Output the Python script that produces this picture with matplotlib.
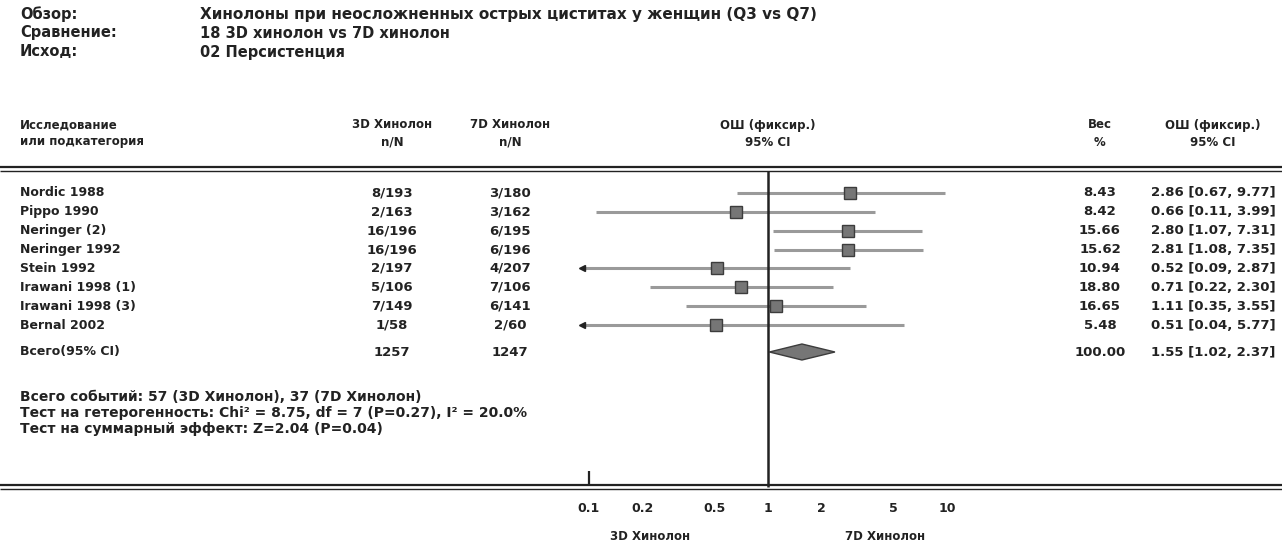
import numpy as np
import matplotlib
matplotlib.use('Agg')
import matplotlib.pyplot as plt
from matplotlib.patches import Polygon

plt.rcParams['font.family'] = ['DejaVu Sans']

# исследования и их данные
studies = ['Nordic 1988', 'Pippo 1990', 'Neringer (2)', 'Neringer 1992',
           'Stein 1992', 'Irawani 1998 (1)', 'Irawani 1998 (3)', 'Bernal 2002']
ev_3d = [8, 2, 16, 16, 2, 5, 7, 1]
n_3d = [193, 163, 196, 196, 197, 106, 149, 58]
ev_7d = [3, 3, 6, 6, 4, 7, 6, 2]
n_7d = [180, 162, 195, 196, 207, 106, 141, 60]
odds = [2.86, 0.66, 2.80, 2.81, 0.52, 0.71, 1.11, 0.51]
ci_lo = [0.67, 0.11, 1.07, 1.08, 0.09, 0.22, 0.35, 0.04]
ci_hi = [9.77, 3.99, 7.31, 7.35, 2.87, 2.30, 3.55, 5.77]
weights = [8.43, 8.42, 15.66, 15.62, 10.94, 18.80, 16.65, 5.48]

total_3d = 1257
total_7d = 1247
total_or = 1.55
total_lo = 1.02
total_hi = 2.37
total_w = 100.00

tick_vals = [0.1, 0.2, 0.5, 1, 2, 5, 10]
tick_labels = ['0.1', '0.2', '0.5', '1', '2', '5', '10']

W, H = 1282, 545
fig = plt.figure(figsize=(W / 100, H / 100), dpi=100)

# фоновая ось в пикселях для текста таблицы
ax = fig.add_axes([0, 0, 1, 1])
ax.set_xlim(0, W)
ax.set_ylim(H, 0)
ax.axis('off')

# ось для графика ОШ (логарифмическая шкала)
x0, x1 = 579, 961
fx = fig.add_axes([x0 / W, 0, (x1 - x0) / W, 1])
fx.set_xscale('log')
fx.set_xlim(0.088, 12)
fx.set_ylim(H, 0)
fx.axis('off')
fx.patch.set_alpha(0)

tc = '#222222'
fb = dict(color=tc, fontweight='bold', va='center')
hs = 10.5   # шапка
cs = 8.5    # заголовки колонок
ns = 9      # названия исследований
vs = 9.5    # числа
fs = 10     # примечания

# шапка
ax.text(20, 14, 'Обзор:', fontsize=hs, **fb)
ax.text(20, 33, 'Сравнение:', fontsize=hs, **fb)
ax.text(20, 52, 'Исход:', fontsize=hs, **fb)
ax.text(200, 14, 'Хинолоны при неосложненных острых циститах у женщин (Q3 vs Q7)',
        fontsize=11, **fb)
ax.text(200, 33, '18 3D хинолон vs 7D хинолон', fontsize=hs, **fb)
ax.text(200, 52, '02 Персистенция', fontsize=hs, **fb)

# заголовки колонок
col_3d, col_7d, col_or, col_w, col_ci = 392, 510, 768, 1100, 1213
ax.text(20, 125, 'Исследование', fontsize=cs, **fb)
ax.text(20, 142, 'или подкатегория', fontsize=cs, **fb)
for cx, top, bot in [(col_3d, '3D Хинолон', 'n/N'), (col_7d, '7D Хинолон', 'n/N'),
                     (col_or, 'ОШ (фиксир.)', '95% CI'), (col_w, 'Вес', '%'),
                     (col_ci, 'ОШ (фиксир.)', '95% CI')]:
    ax.text(cx, 125, top, fontsize=cs, ha='center', **fb)
    ax.text(cx, 142, bot, fontsize=cs, ha='center', **fb)

# двойные горизонтальные линии
ax.hlines([167, 170.5], 0, W, color='#222222', lw=[1.6, 1.0])
ax.hlines([485, 488.5], 0, W, color='#222222', lw=[1.6, 1.0])

# строки исследований
row_y = 193 + 18.86 * np.arange(len(studies))
xmin = fx.get_xlim()[0]
for i, y in enumerate(row_y):
    ax.text(20, y, studies[i], fontsize=ns, **fb)
    ax.text(col_3d, y, f'{ev_3d[i]}/{n_3d[i]}', fontsize=vs, ha='center', **fb)
    ax.text(col_7d, y, f'{ev_7d[i]}/{n_7d[i]}', fontsize=vs, ha='center', **fb)
    ax.text(col_w, y, f'{weights[i]:.2f}', fontsize=vs, ha='center', **fb)
    ax.text(col_ci, y, f'{odds[i]:.2f} [{ci_lo[i]:.2f}, {ci_hi[i]:.2f}]',
            fontsize=vs, ha='center', **fb)
    lo = max(ci_lo[i], xmin * 1.04)
    fx.plot([lo, ci_hi[i]], [y, y], color='#9a9a9a', lw=2.2, solid_capstyle='butt', zorder=2)
    if ci_lo[i] < xmin * 1.04:
        fx.plot(lo, y, marker='<', ms=4.5, color='#222222', zorder=3)
    fx.plot(odds[i], y, marker='s', ms=7.5 + 0.08 * weights[i], mfc='#767676',
            mec='#3c3c3c', mew=1.0, zorder=4)

# итоговая строка
ty = 352
ax.text(20, ty, 'Всего(95% CI)', fontsize=ns, **fb)
ax.text(col_3d, ty, str(total_3d), fontsize=vs, ha='center', **fb)
ax.text(col_7d, ty, str(total_7d), fontsize=vs, ha='center', **fb)
ax.text(col_w, ty, f'{total_w:.2f}', fontsize=vs, ha='center', **fb)
ax.text(col_ci, ty, f'{total_or:.2f} [{total_lo:.2f}, {total_hi:.2f}]',
        fontsize=vs, ha='center', **fb)
fx.add_patch(Polygon([(total_lo, ty), (total_or, ty - 8), (total_hi, ty), (total_or, ty + 8)],
                     closed=True, fc='#767676', ec='#3c3c3c', lw=1.0, zorder=4))

# примечания
ax.text(20, 397, 'Всего событий: 57 (3D Хинолон), 37 (7D Хинолон)', fontsize=fs, **fb)
ax.text(20, 413, 'Тест на гетерогенность: Chi² = 8.75, df = 7 (P=0.27), I² = 20.0%',
        fontsize=fs, **fb)
ax.text(20, 429, 'Тест на суммарный эффект: Z=2.04 (P=0.04)', fontsize=fs, **fb)

# линия отсутствия эффекта и шкала
fx.vlines(1, 171, 487, color='#222222', lw=1.8, zorder=5)
fx.vlines(0.1, 471, 486, color='#222222', lw=1.6)
for v, lab in zip(tick_vals, tick_labels):
    fx.text(v, 508, lab, fontsize=ns, ha='center', **fb)
ax.text(650, 537, '3D Хинолон', fontsize=cs, ha='center', **fb)
ax.text(885, 537, '7D Хинолон', fontsize=cs, ha='center', **fb)

fig.savefig('out.png', dpi=100)
